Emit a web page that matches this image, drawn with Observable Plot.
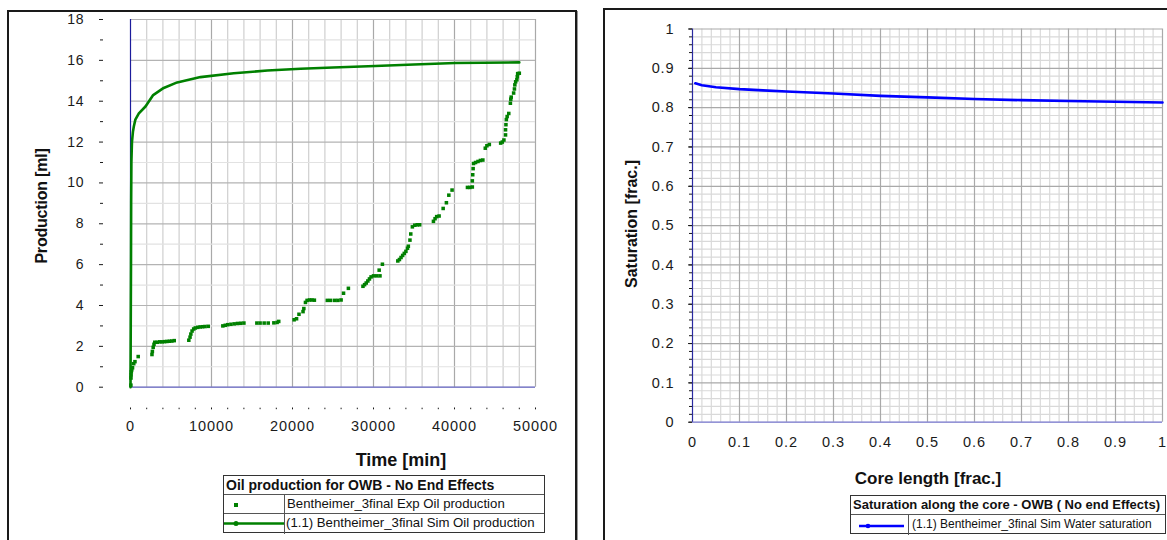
<!DOCTYPE html>
<html>
<head>
<meta charset="utf-8">
<script src="https://cdn.jsdelivr.net/npm/d3@7"></script>
<script src="https://cdn.jsdelivr.net/npm/@observablehq/plot@0.6"></script>
<style>
  html, body { margin: 0; padding: 0; background: #fff; }
  #page { position: relative; width: 1167px; height: 540px; overflow: hidden; background: #fff;
          font-family: "Liberation Sans", Arial, sans-serif; color: #111; }
  .frame { position: absolute; border: 2px solid #1a1a1a; box-shadow: 1px 1px 0 #999; box-sizing: border-box; }
  .chart { position: absolute; top: 0; }
  .ttl { position: absolute; font-weight: bold; white-space: nowrap; }
  .legend { position: absolute; border: 1px solid #333; box-sizing: border-box; background: #fff; }
  .legend .row { position: absolute; left: 0; right: 0; border-top: 1px solid #555; }
  .legend .head { position: absolute; left: 2px; font-weight: bold; white-space: nowrap; }
  .legend .cell { position: absolute; top: 0; bottom: 0; border-right: 1px solid #555; }
  .legend .txt { position: absolute; white-space: nowrap; }
  g[aria-label$="tick label"] text { letter-spacing: 0.9px; }
</style>
</head>
<body>
<div id="page">
  <div class="frame" style="left:7px; top:10px; width:570px; height:560px;"></div>
  <div class="frame" style="left:603px; top:8px; width:600px; height:560px;"></div>
  <div id="left" class="chart" style="left:0px;"></div>
  <div id="right" class="chart" style="left:600px;"></div>

  <div class="ttl" style="left:42px; top:206px; font-size:16px; transform: translate(-50%,-50%) rotate(-90deg); letter-spacing:-0.2px;">Production [ml]</div>
  <div class="ttl" style="left:401px; top:460px; font-size:18px; transform: translate(-50%,-50%);">Time [min]</div>
  <div class="ttl" style="left:632px; top:224px; font-size:16px; transform: translate(-50%,-50%) rotate(-90deg);">Saturation [frac.]</div>
  <div class="ttl" style="left:928px; top:479px; font-size:17px; transform: translate(-50%,-50%);">Core length [frac.]</div>

  <div class="legend" style="left:223px; top:475px; width:322px; height:58px;">
    <div class="head" style="top:1px; font-size:14px;">Oil production for OWB - No End Effects</div>
    <div class="row" style="top:18px; height:19px;">
      <div class="cell" style="left:0; width:60px;">
        <svg width="60" height="19" style="position:absolute;left:0;top:0"><rect x="10" y="8" width="4" height="4" fill="#008000"/></svg>
      </div>
      <div class="txt" style="left:63px; top:1px; font-size:13.2px;">Bentheimer_3final Exp Oil production</div>
    </div>
    <div class="row" style="top:37px; height:20px;">
      <div class="cell" style="left:0; width:60px;">
        <svg width="60" height="19" style="position:absolute;left:0;top:0"><line x1="0" x2="60" y1="9.5" y2="9.5" stroke="#008000" stroke-width="2.5"/><circle cx="12" cy="9.5" r="2.5" fill="#008000"/></svg>
      </div>
      <div class="txt" style="left:62px; top:1px; font-size:13.2px;">(1.1) Bentheimer_3final Sim Oil production</div>
    </div>
  </div>

  <div class="legend" style="left:850px; top:495px; width:316px; height:39px;">
    <div class="head" style="top:1px; font-size:13px;">Saturation along the core - OWB ( No end Effects)</div>
    <div class="row" style="top:18px; height:20px;">
      <div class="cell" style="left:0; width:57px;">
        <svg width="57" height="20" style="position:absolute;left:0;top:0"><line x1="8" x2="53" y1="11" y2="11" stroke="#0000ff" stroke-width="2.5"/><circle cx="17" cy="11" r="2.3" fill="#0000ff"/></svg>
      </div>
      <div class="txt" style="left:61px; top:2px; font-size:12px;">(1.1) Bentheimer_3final Sim Water saturation</div>
    </div>
  </div>
</div>

<script>
// ---------- Data: left chart (oil production) ----------
const expTime = [50,60,80,100,150,250,400,550,950,
  2650,2700,2800,2900,3000,3300,3600,3900,4200,4500,4800,5100,5400,
  7200,7350,7450,7600,7800,8000,8300,8600,8900,9200,9600,
  11400,11700,12000,12400,12800,13200,13600,14000,
  15600,16000,16500,17000,17700,18100,18300,
  20200,20500,20800,21300,21400,21600,21800,22100,22400,22700,
  24300,24700,25200,25600,26000,26300,26900,
  28700,28900,29100,29300,29500,29700,30000,30400,30800,30700,31100,
  33000,33200,33400,33600,33800,34000,34200,34300,34500,34600,34800,35100,35400,35700,
  37400,37600,37800,38100,38600,39000,39300,39700,
  41600,41900,42200,42200,42250,42300,42350,42600,42900,43200,43500,43800,44000,44300,
  45700,45900,46100,46300,46300,46350,46400,46500,46700,46900,46950,47000,47300,47400,47450,47550,47700,47750,47800,48000];
const expOil = [0.1,0.45,0.6,0.75,0.85,0.95,1.15,1.25,1.5,
  1.6,1.75,1.95,2.1,2.2,2.2,2.22,2.22,2.23,2.24,2.25,2.26,2.28,
  2.3,2.45,2.6,2.75,2.85,2.9,2.93,2.95,2.96,2.97,2.98,
  3.0,3.03,3.06,3.08,3.1,3.12,3.13,3.14,
  3.14,3.14,3.14,3.14,3.15,3.17,3.22,
  3.3,3.35,3.57,3.7,3.85,4.15,4.25,4.27,4.27,4.26,
  4.25,4.25,4.25,4.25,4.27,4.6,4.84,
  4.94,5.02,5.1,5.2,5.3,5.4,5.45,5.45,5.45,5.73,6.02,
  6.18,6.25,6.35,6.45,6.55,6.65,6.8,6.9,7.2,7.5,7.85,7.93,7.95,7.95,
  8.12,8.25,8.35,8.38,8.75,9.03,9.4,9.65,
  9.78,9.78,9.8,10.1,10.4,10.7,10.95,11.0,11.05,11.1,11.12,11.7,11.82,11.88,
  11.95,12.0,12.1,12.35,12.6,12.85,13.1,13.25,13.4,13.9,14.1,14.2,14.4,14.6,14.8,14.95,15.05,15.2,15.35,15.37];

const simTime = [0,30,60,80,110,180,300,410,600,1030,1850,2800,4100,5760,8640,12750,16900,21000,25000,30200,35000,40100,48000];
const simOil  = [0,3,6,9,11,12,12.5,12.76,13.1,13.4,13.74,14.3,14.65,14.92,15.18,15.37,15.5,15.59,15.65,15.72,15.8,15.87,15.9];

const prodMajorTicks = [0,2,4,6,8,10,12,14,16,18];
const prodMinorTicks = [1,3,5,7,9,11,13,15,17];
const timeTicks = [0,10000,20000,30000,40000,50000];

// ---------- Data: right chart (saturation) ----------
const coreX = [0.006,0.02,0.05,0.1,0.15,0.2,0.3,0.4,0.5,0.6,0.7,0.8,0.9,1.0];
const satY  = [0.862,0.857,0.852,0.847,0.844,0.841,0.836,0.83,0.826,0.822,0.819,0.817,0.815,0.813];
const satTicks = [0,0.1,0.2,0.3,0.4,0.5,0.6,0.7,0.8,0.9,1];
const coreTicks = [0,0.1,0.2,0.3,0.4,0.5,0.6,0.7,0.8,0.9,1];

// ---------- Build ----------
const expData = expTime.map((t,i) => ({t, v: expOil[i]}));
const simData = simTime.map((t,i) => ({t, v: simOil[i]}));
const satData = coreX.map((x,i) => ({x, s: satY[i]}));

const fmt = d => String(+(+d).toFixed(2));
const style = {background: "transparent", fontFamily: "'Liberation Sans', Arial, sans-serif", fontSize: "14px", color: "#1a1a1a", overflow: "visible"};

const xGrid2000 = d3.range(2000, 50001, 2000).filter(v => v % 10000 !== 0);
const xGrid10000 = [10000,20000,30000,40000,50000];

const left = Plot.plot({
  width: 580, height: 540,
  marginLeft: 130, marginRight: 45, marginTop: 19, marginBottom: 153.3,
  style,
  x: {domain: [0, 50000], label: null},
  y: {domain: [0, 18], label: null},
  marks: [
    Plot.ruleX(xGrid2000, {stroke: "#cfcfcf", strokeWidth: 1.2}),
    Plot.ruleX(xGrid10000, {stroke: "#a9a9a9", strokeWidth: 1.2}),
    Plot.ruleY(prodMinorTicks, {stroke: "#e2e2e2", strokeWidth: 1.2}),
    Plot.ruleY(prodMajorTicks.filter(d => d > 0), {stroke: "#b3b3b3", strokeWidth: 1.2}),
    Plot.ruleY([0], {stroke: "#5a5ab8", strokeWidth: 1.2}),
    Plot.ruleX([0], {stroke: "#1c1c9c", strokeWidth: 1.2}),
    Plot.line(simData, {x: "t", y: "v", stroke: "#008000", strokeWidth: 2.6}),
    Plot.dot(expData, {x: "t", y: "v", symbol: "square", r: 2, fill: "#008000", stroke: "none"}),
    Plot.axisY({ticks: prodMajorTicks, tickSize: 4, tickPadding: 15, dx: -27, fontSize: 14, tickFormat: fmt, label: null}),
    Plot.axisY({ticks: prodMinorTicks, tickSize: 3, text: null, dx: -27, label: null}),
    Plot.axisX({ticks: timeTicks, tickSize: 1.5, tickPadding: 11, dy: 21, fontSize: 14.5, tickFormat: d => String(d), label: null}),
    Plot.axisX({ticks: d3.range(0, 50001, 2000), tickSize: 1.5, text: null, dy: 21, label: null})
  ]
});
document.getElementById("left").appendChild(left);

const cGrid = d3.range(1, 51).map(i => i / 50).filter(v => Math.round(v * 50) % 5 !== 0);
const cMajor = coreTicks.filter(d => d > 0);

const right = Plot.plot({
  width: 567, height: 540,
  marginLeft: 92, marginRight: 5, marginTop: 28.5, marginBottom: 118.3,
  style,
  x: {domain: [0, 1], label: null},
  y: {domain: [0, 1], label: null},
  marks: [
    Plot.ruleX(cGrid, {stroke: "#d9d9d9", strokeWidth: 1.2}),
    Plot.ruleY(cGrid, {stroke: "#d9d9d9", strokeWidth: 1.2}),
    Plot.ruleX(cMajor, {stroke: "#a9a9a9", strokeWidth: 1.2}),
    Plot.ruleY(cMajor, {stroke: "#a9a9a9", strokeWidth: 1.2}),
    Plot.ruleY([0], {stroke: "#7070c8", strokeWidth: 1.2}),
    Plot.ruleX([0], {stroke: "#2a2aa0", strokeWidth: 1.2}),
    Plot.line(satData, {x: "x", y: "s", stroke: "#0000ff", strokeWidth: 2.6}),
    Plot.axisY({ticks: satTicks, tickSize: 4, tickPadding: 14, fontSize: 14.5, tickFormat: fmt, label: null}),
    Plot.axisY({ticks: d3.range(0, 51).map(i => i / 50), tickSize: 3, text: null, label: null}),
    Plot.axisX({ticks: coreTicks, tickSize: 0, tickPadding: 15, fontSize: 14.5, tickFormat: fmt, label: null})
  ]
});
document.getElementById("right").appendChild(right);
</script>
</body>
</html>
